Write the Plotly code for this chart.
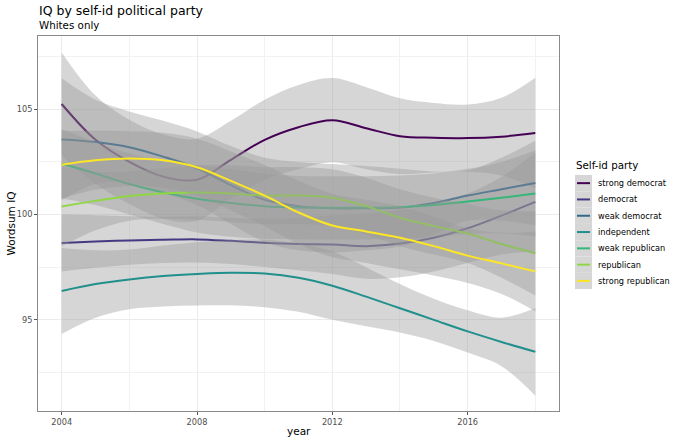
import plotly.graph_objects as go

# ---------------- data ----------------
years = [2004, 2005, 2006, 2007, 2008, 2009, 2010, 2011, 2012, 2013, 2014, 2015, 2016, 2017, 2018]

party_names = ["strong democrat", "democrat", "weak democrat", "independent",
               "weak republican", "republican", "strong republican"]
party_colors = ["#440154", "#443A83", "#31688E", "#21908C", "#35B779", "#8FD744", "#FDE725"]

strong_democrat = [105.25, 103.55, 102.5, 101.8, 101.65, 102.6, 103.55, 104.15, 104.48, 104.1, 103.72, 103.65, 103.63, 103.7, 103.87]
democrat = [98.65, 98.72, 98.77, 98.8, 98.82, 98.75, 98.66, 98.6, 98.58, 98.5, 98.62, 98.9, 99.35, 99.95, 100.6]
weak_democrat = [103.57, 103.45, 103.2, 102.75, 102.2, 101.4, 100.7, 100.4, 100.3, 100.3, 100.33, 100.55, 100.9, 101.2, 101.5]
independent = [96.37, 96.7, 96.92, 97.08, 97.18, 97.24, 97.2, 97.0, 96.62, 96.1, 95.55, 95.0, 94.45, 93.95, 93.48]
weak_republican = [102.41, 101.95, 101.45, 101.05, 100.75, 100.55, 100.4, 100.33, 100.32, 100.32, 100.35, 100.45, 100.62, 100.8, 101.0]
republican = [100.38, 100.65, 100.88, 101.0, 101.05, 101.0, 100.9, 100.9, 100.8, 100.4, 99.85, 99.45, 99.1, 98.6, 98.16]
strong_republican = [102.37, 102.58, 102.66, 102.58, 102.25, 101.6, 100.9, 100.1, 99.48, 99.2, 98.9, 98.5, 98.05, 97.68, 97.3]

# half-widths of the grey confidence ribbons
strong_democrat_hw = [2.45, 2.1, 2.0, 2.0, 1.95, 1.85, 1.9, 2.0, 2.0, 1.95, 1.8, 1.65, 1.6, 1.85, 2.63]
democrat_hw = [1.35, 1.25, 1.15, 1.1, 1.1, 1.1, 1.15, 1.25, 1.4, 1.55, 1.6, 1.6, 1.65, 1.85, 2.35]
weak_democrat_hw = [2.9, 2.0, 1.7, 1.7, 1.75, 1.85, 2.0, 2.1, 2.1, 2.0, 1.85, 1.5, 1.2, 1.5, 2.0]
independent_hw = [2.04, 1.6, 1.42, 1.45, 1.5, 1.55, 1.6, 1.62, 1.62, 1.4, 1.15, 1.0, 1.0, 1.15, 2.08]
weak_republican_hw = [1.65, 1.5, 1.45, 1.5, 1.6, 1.6, 1.55, 1.5, 1.5, 1.5, 1.5, 1.5, 1.55, 1.7, 2.05]
republican_hw = [1.9, 1.4, 1.17, 1.2, 1.3, 1.35, 1.35, 1.35, 1.35, 1.35, 1.35, 1.35, 1.4, 1.6, 2.0]
strong_republican_hw = [1.6, 1.4, 1.3, 1.3, 1.35, 1.4, 1.45, 1.5, 1.5, 1.5, 1.5, 1.4, 1.3, 1.45, 1.9]

x_tickvals = [2004, 2008, 2012, 2016]
y_tickvals = [95, 100, 105]

series_means = [strong_democrat, democrat, weak_democrat, independent,
                weak_republican, republican, strong_republican]
series_hw = [strong_democrat_hw, democrat_hw, weak_democrat_hw, independent_hw,
             weak_republican_hw, republican_hw, strong_republican_hw]

# ---------------- figure ----------------
FONT = "DejaVu Sans"
RIBBON = "rgba(153,153,153,0.4)"

fig = go.Figure()
for name, col, m, hw in zip(party_names, party_colors, series_means, series_hw):
    lower = [a - b for a, b in zip(m, hw)]
    upper = [a + b for a, b in zip(m, hw)]
    fig.add_trace(go.Scatter(x=years, y=lower, mode="lines",
                             line=dict(width=0, shape="spline", smoothing=1),
                             showlegend=False, hoverinfo="skip"))
    fig.add_trace(go.Scatter(x=years, y=upper, mode="lines", fill="tonexty",
                             fillcolor=RIBBON,
                             line=dict(width=0, shape="spline", smoothing=1),
                             showlegend=False, hoverinfo="skip"))
    fig.add_trace(go.Scatter(x=years, y=m, mode="lines", name=name,
                             line=dict(color=col, width=2, shape="spline", smoothing=1),
                             showlegend=False))

# plot area geometry in pixels
W, H = 680, 442
L, R, T, B = 38, 559, 36, 411
pw, ph = R - L, B - T


def px_x(px):
    return (px - L) / pw


def px_y(py):
    return (B - py) / ph


annotations = [
    dict(text="IQ by self-id political party", x=px_x(37), y=px_y(10), xref="paper", yref="paper",
         xanchor="left", yanchor="middle", showarrow=False,
         font=dict(family=FONT, size=12.5, color="black")),
    dict(text="Whites only", x=px_x(37), y=px_y(25), xref="paper", yref="paper",
         xanchor="left", yanchor="middle", showarrow=False,
         font=dict(family=FONT, size=10.3, color="black")),
    dict(text="year", x=0.5, y=px_y(431), xref="paper", yref="paper",
         xanchor="center", yanchor="middle", showarrow=False,
         font=dict(family=FONT, size=10.5, color="black")),
    dict(text="Wordsum IQ", x=px_x(10), y=0.5, xref="paper", yref="paper",
         xanchor="center", yanchor="middle", showarrow=False, textangle=-90,
         font=dict(family=FONT, size=10.5, color="black")),
    dict(text="Self-id party", x=px_x(574), y=px_y(165), xref="paper", yref="paper",
         xanchor="left", yanchor="middle", showarrow=False,
         font=dict(family=FONT, size=10.3, color="black")),
]

shapes = []
key_top, key_h = 175, 16.3
key_x0, key_x1 = 575, 592
for i, (name, col) in enumerate(zip(party_names, party_colors)):
    y0 = key_top + i * key_h
    yc = y0 + key_h / 2
    shapes.append(dict(type="rect", xref="paper", yref="paper",
                       x0=px_x(key_x0), x1=px_x(key_x1), y0=px_y(y0), y1=px_y(y0 + key_h),
                       fillcolor="#d6d6d6", line=dict(width=0), layer="above"))
    shapes.append(dict(type="line", xref="paper", yref="paper",
                       x0=px_x(key_x0 + 2), x1=px_x(key_x1 - 2), y0=px_y(yc), y1=px_y(yc),
                       line=dict(color=col, width=2), layer="above"))
    annotations.append(dict(text=name, x=px_x(596), y=px_y(yc), xref="paper", yref="paper",
                            xanchor="left", yanchor="middle", showarrow=False,
                            font=dict(family=FONT, size=8.2, color="black")))

axis_common = dict(showline=True, mirror=True, linecolor="#8a8a8a", linewidth=1,
                   ticks="outside", ticklen=3, tickcolor="#555555", tickwidth=1,
                   gridcolor="#ebebeb", gridwidth=1, zeroline=False,
                   tickfont=dict(family=FONT, size=8.2, color="#4d4d4d"))

fig.update_layout(
    width=W, height=H,
    margin=dict(l=L, r=W - R, t=T, b=H - B, pad=0),
    paper_bgcolor="white", plot_bgcolor="white",
    showlegend=False,
    xaxis=dict(range=[2003.3, 2018.7], tickvals=x_tickvals,
               minor=dict(dtick=2, tick0=2004, showgrid=True, gridcolor="#f2f2f2", gridwidth=1),
               **axis_common),
    yaxis=dict(range=[90.67, 108.48], tickvals=y_tickvals,
               minor=dict(dtick=2.5, tick0=95, showgrid=True, gridcolor="#f2f2f2", gridwidth=1),
               **axis_common),
    annotations=annotations,
    shapes=shapes,
)

fig.write_html("out.html", config={"displayModeBar": False},
               post_script="document.body.style.margin='0';document.body.style.padding='0';")
